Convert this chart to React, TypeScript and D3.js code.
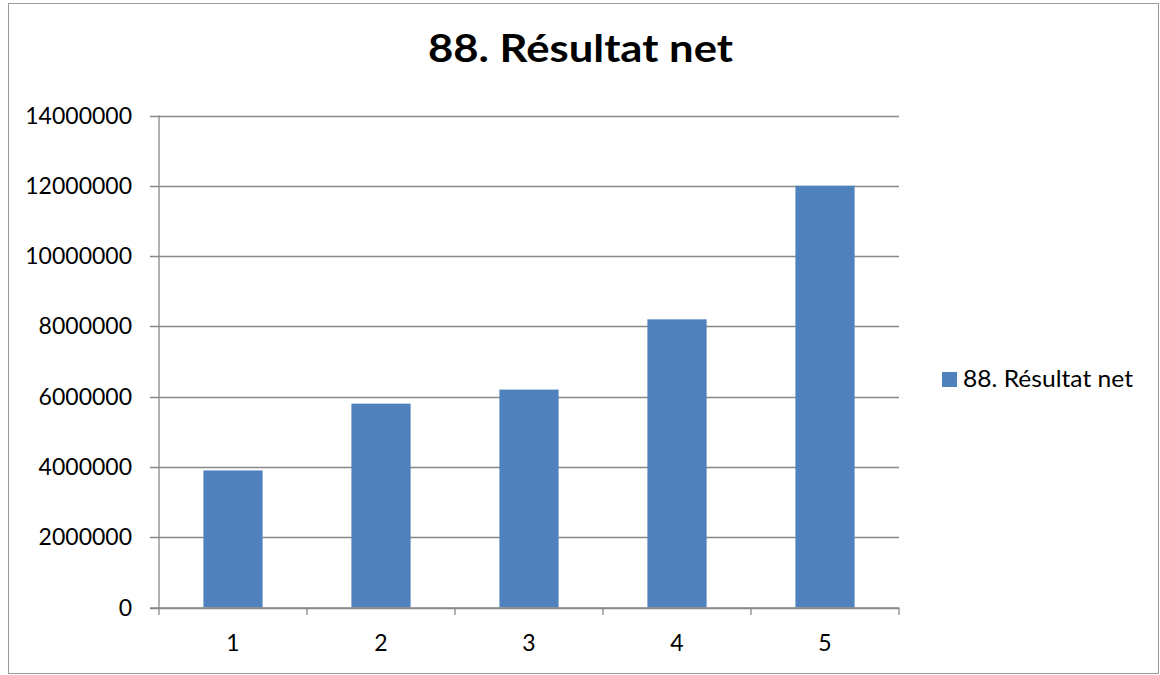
import React from "react";
import * as d3 from "d3";

const categories = ["1", "2", "3", "4", "5"];
const values = [3900000, 5800000, 6200000, 8200000, 12000000];
const yTicks = [0, 2000000, 4000000, 6000000, 8000000, 10000000, 12000000, 14000000];
const seriesName = "88. Résultat net";
const title = "88. Résultat net";

export default function App() {
  const W = 1160, H = 675;
  const left = 159, right = 899, top = 115.5, bottom = 607.5;
  const x = d3.scaleBand<string>().domain(categories).range([left, right]).paddingInner(0.6).paddingOuter(0.3);
  const xOuter = d3.scaleBand<string>().domain(categories).range([left, right]);
  const y = d3.scaleLinear().domain([0, 14000000]).range([bottom, top]);
  const font = "Lato, 'Open Sans', sans-serif";
  const grid = "#898989";
  return (
    <svg width={W} height={H} style={{ position: "absolute", left: 0, top: 0 }} fontFamily={font}>
      <rect x={0} y={0} width={W} height={H} fill="#fff" />
      <rect x={8.5} y={3.5} width={1150} height={670} fill="none" stroke="#9a9a9a" strokeWidth={1} />
      <text x={428} y={62} fontSize={38} fontWeight="bold" fill="#000" textLength={305} lengthAdjust="spacingAndGlyphs">{title}</text>
      {yTicks.map((t) => (
        <g key={t}>
          <line x1={150} x2={right} y1={Math.round(y(t)) + 0.5} y2={Math.round(y(t)) + 0.5} stroke={grid} strokeWidth={1.3} />
          <text x={132} y={y(t)} dy="0.35em" textAnchor="end" fontSize={23} fill="#000">{t}</text>
        </g>
      ))}
      <line x1={left} x2={left} y1={top} y2={615} stroke={grid} strokeWidth={1.3} />
      {categories.map((c) => (
        <line key={"tk" + c} x1={(xOuter(c) as number) + xOuter.bandwidth()} x2={(xOuter(c) as number) + xOuter.bandwidth()} y1={bottom} y2={615} stroke={grid} strokeWidth={1.3} />
      ))}
      {categories.map((c, i) => (
        <rect key={"b" + c} x={x(c)} y={y(values[i])} width={x.bandwidth()} height={y(0) - y(values[i])} fill="#4F81BD" />
      ))}
      <line x1={150} x2={right} y1={bottom + 0.5} y2={bottom + 0.5} stroke={grid} strokeWidth={1.3} />
      {categories.map((c) => (
        <text key={"l" + c} x={(xOuter(c) as number) + xOuter.bandwidth() / 2} y={651} textAnchor="middle" fontSize={23} fill="#000">{c}</text>
      ))}
      <rect x={942} y={372} width={15} height={15} fill="#4F81BD" />
      <text x={963} y={387} fontSize={23} fill="#000" textLength={170} lengthAdjust="spacingAndGlyphs">{seriesName}</text>
    </svg>
  );
}
